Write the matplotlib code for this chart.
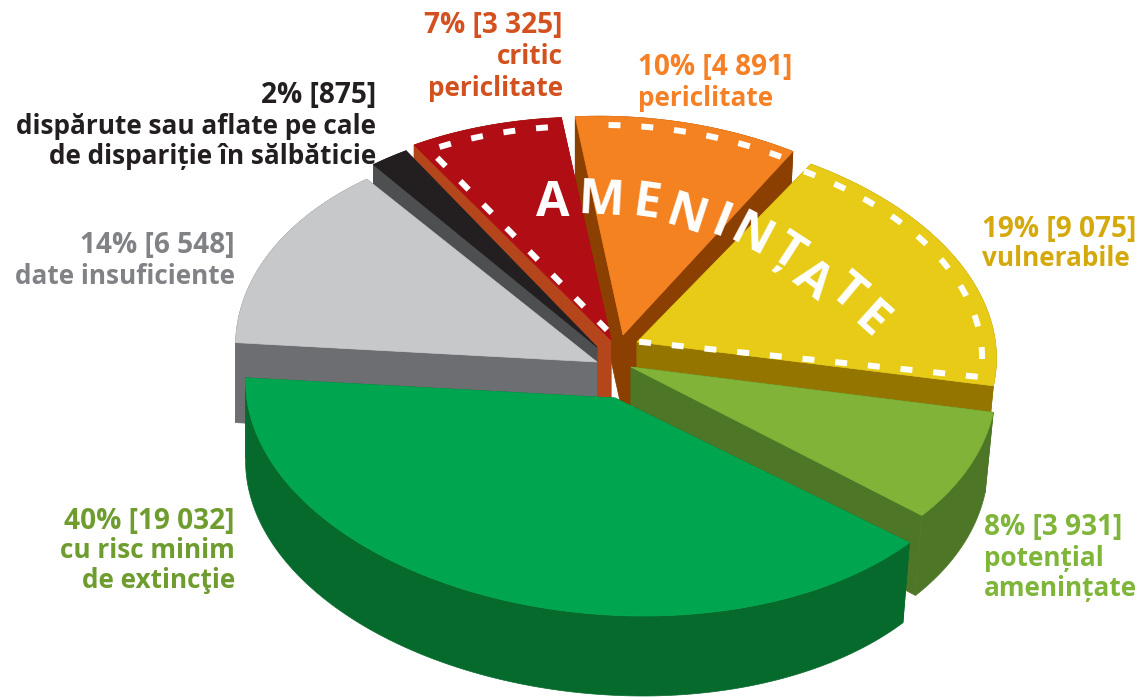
import numpy as np
import matplotlib
matplotlib.use('Agg')
import matplotlib.pyplot as plt
from matplotlib.patches import Polygon

# species counts per category, going round the pie from the green slice
categories = ['cu risc minim de extincţie', 'potențial amenințate', 'vulnerabile', 'periclitate',
              'critic periclitate', 'dispărute sau aflate pe cale de dispariție în sălbăticie',
              'date insuficiente']
values = [19032, 3931, 9075, 4891, 3325, 875, 6548]

label_lines = [
    ['40% [19 032]', 'cu risc minim', 'de extincţie'],
    ['8% [3 931]', 'potențial', 'amenințate'],
    ['19% [9 075]', 'vulnerabile'],
    ['10% [4 891]', 'periclitate'],
    ['7% [3 325]', 'critic', 'periclitate'],
    ['2% [875]', 'dispărute sau aflate pe cale', 'de dispariție în sălbăticie'],
    ['14% [6 548]', 'date insuficiente'],
]
group_word = 'AMENINȚATE'

# styles per slice
top_colors = ['#00a64f', '#80b337', '#e8cb17', '#f58220', '#b00d14', '#231f20', '#c7c8ca']
arc_colors = ['#066a2c', '#4d7726', '#937500', '#8b3f00', '#8b3f00', '#4d4f51', '#6d6e71']
end_colors = ['#066a2c', '#4d7726', '#937500', '#8b3f00', '#b5451b', '#4d4f51', '#6d6e71']
start_colors = ['#066a2c', '#4d7726', '#937500', '#8b3f00', '#b00d14', '#4d4f51', '#6d6e71']
label_colors = ['#6f9c2f', '#7fb539', '#d4a90c', '#f58025', '#d2511f', '#231f20', '#808285']

# where each exploded slice sits, in pixels
apex = [(615, 398), (631, 367), (637, 342), (623, 335), (611, 340), (597, 347), (597, 362)]
radii = [(370, 217), (366, 224), (360, 212), (350, 218), (362, 222), (352, 224), (362, 224)]
depth = 80
tilt = np.radians(4)
start_angle = 181.5

label_x = [235, 984, 982, 638, 563, 376, 235]
label_ha = ['right', 'left', 'left', 'left', 'right', 'right', 'right']
label_y = [521, 527, 229, 68, 26, 96, 246]
label_gap = [30, 31, 30, 30, 31, 30, 30]

letter_x = [553, 601, 648, 688, 723, 753, 790, 815, 850, 873]
letter_y = [198, 197, 200, 212, 220, 233, 250, 277, 290, 318]
letter_rot = [0, -3, -8, -18, -22, -28, -33, -37, -40, -42]

sweeps = np.array(values) / np.sum(values) * 360
starts = start_angle + np.concatenate([[0], np.cumsum(sweeps)[:-1]])


def arc_points(i, a0, a1, scale=1.0):
    """ Points of slice i's rim between two angles, on the tilted ellipse """
    n = max(int(abs(a1 - a0)), 2) + 1
    a = np.radians(np.linspace(a0, a1, n))
    x = radii[i][0] * np.cos(a) * scale
    y = -radii[i][1] * np.sin(a) * scale
    px = apex[i][0] + x * np.cos(tilt) - y * np.sin(tilt)
    py = apex[i][1] + x * np.sin(tilt) + y * np.cos(tilt)
    return np.column_stack([px, py])


def drop(i, pts):
    """ Same points pushed down by the thickness of the pie """
    out = np.array(pts, dtype=float)
    out[:, 0] -= 8 * np.clip(out[:, 0] - apex[i][0], 0, None) / 360
    out[:, 1] += depth
    return out


def draw_face(i, pts, color):
    pts = np.array(pts, dtype=float)
    poly = np.vstack([pts, drop(i, pts)[::-1]])
    ax.add_patch(Polygon(poly, closed=True, fc=color, ec=color, lw=0.5))


fig = plt.figure(figsize=(11.39, 6.97), dpi=100)
ax = fig.add_axes([0, 0, 1, 1])
ax.set_xlim(0, 1139)
ax.set_ylim(697, 0)
ax.axis('off')

# back slices first, the big green one last
for i in [3, 2, 4, 5, 6, 1, 0]:
    rim = arc_points(i, starts[i], starts[i] + sweeps[i])
    draw_face(i, rim, arc_colors[i])
    draw_face(i, [apex[i], rim[0]], start_colors[i])
    draw_face(i, [apex[i], rim[-1]], end_colors[i])
    ax.add_patch(Polygon(np.vstack([[apex[i]], rim]), closed=True,
                         fc=top_colors[i], ec=top_colors[i], lw=0.5))

# white dashed outline of the threatened group
dash = dict(color='white', lw=4.3, linestyle=(0, (2, 3.5)), dash_capstyle='butt')
y_path = np.vstack([arc_points(2, starts[2] + sweeps[2], starts[2] + 2, 0.96), [(622, 340)]])
ax.plot(y_path[:, 0], y_path[:, 1], **dash)
o_path = arc_points(3, starts[3] + 1, starts[3] + sweeps[3] - 2, 0.96)
ax.plot(o_path[:, 0], o_path[:, 1], **dash)
r_path = np.vstack([[(607, 330)], arc_points(4, starts[4] + sweeps[4] - 1.5, starts[4] + 1, 0.96)])
ax.plot(r_path[:, 0], r_path[:, 1], **dash)

# slice labels, the percent line runs wider than the rest
for i, lines in enumerate(label_lines):
    for j, line in enumerate(lines):
        ax.text(label_x[i], label_y[i] + j * label_gap[i], line, color=label_colors[i],
                ha=label_ha[i], va='center', fontsize=20.2 if j == 0 else 18.8,
                fontweight='bold', family='Open Sans')

# the word bent along the rim
for ch, x, y, r in zip(group_word, letter_x, letter_y, letter_rot):
    a = np.radians(r)
    ax.text(x + 17.5 * np.sin(a), y + 17.5 * np.cos(a), ch, color='white', ha='center',
            va='baseline', rotation=r, rotation_mode='anchor', fontsize=35,
            fontweight='bold', family='Open Sans')

fig.savefig('out.png', dpi=100)
